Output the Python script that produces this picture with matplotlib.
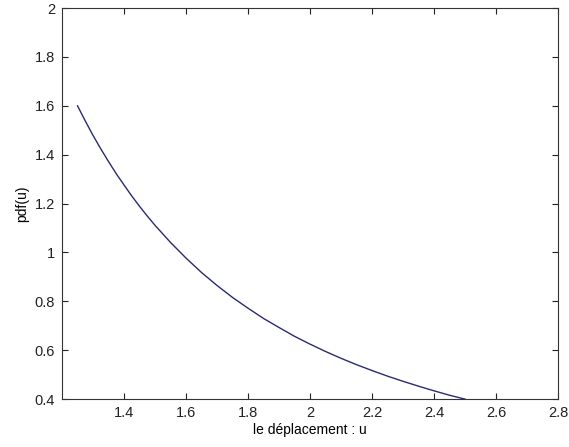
import matplotlib.pyplot as plt

# values
u = [1.25, 1.275, 1.30, 1.325, 1.35, 1.375, 1.40, 1.425, 1.45, 1.475,
     1.50, 1.55, 1.60, 1.65, 1.70, 1.75, 1.80, 1.85, 1.90, 1.95,
     2.00, 2.05, 2.10, 2.15, 2.20, 2.25, 2.30, 2.35, 2.40, 2.45, 2.50]
pdf = [1.60, 1.538, 1.479, 1.424, 1.372, 1.322, 1.276, 1.231, 1.189, 1.149,
       1.111, 1.041, 0.977, 0.918, 0.865, 0.816, 0.772, 0.730, 0.693, 0.657,
       0.625, 0.595, 0.567, 0.541, 0.517, 0.494, 0.473, 0.453, 0.434, 0.416, 0.40]

xticks = [1.4, 1.6, 1.8, 2.0, 2.2, 2.4, 2.6, 2.8]
xtick_labels = ["1.4", "1.6", "1.8", "2", "2.2", "2.4", "2.6", "2.8"]
yticks = [0.4, 0.6, 0.8, 1.0, 1.2, 1.4, 1.6, 1.8, 2.0]
ytick_labels = ["0.4", "0.6", "0.8", "1", "1.2", "1.4", "1.6", "1.8", "2"]

plt.rcParams["font.family"] = ["Liberation Sans", "DejaVu Sans"]

fig = plt.figure(figsize=(5.69, 4.47), dpi=100)
ax = fig.add_axes([0.109, 0.107, 0.872, 0.875])

ax.plot(u, pdf, color="#2a2a75", linewidth=1.0)

ax.set_xlim(1.2, 2.8)
ax.set_ylim(0.4, 2.0)
ax.set_xticks(xticks)
ax.set_xticklabels(xtick_labels)
ax.set_yticks(yticks)
ax.set_yticklabels(ytick_labels)

ax.tick_params(direction="in", length=4.5, width=0.8, labelsize=10.5,
               top=True, right=True, colors="#222222", pad=5)
for s in ax.spines.values():
    s.set_linewidth(0.8)
    s.set_color("#333333")

ax.set_xlabel("le déplacement : u", fontsize=10, labelpad=2)
ax.set_ylabel("pdf(u)", fontsize=10, labelpad=4)

fig.savefig("out.png", dpi=100)
